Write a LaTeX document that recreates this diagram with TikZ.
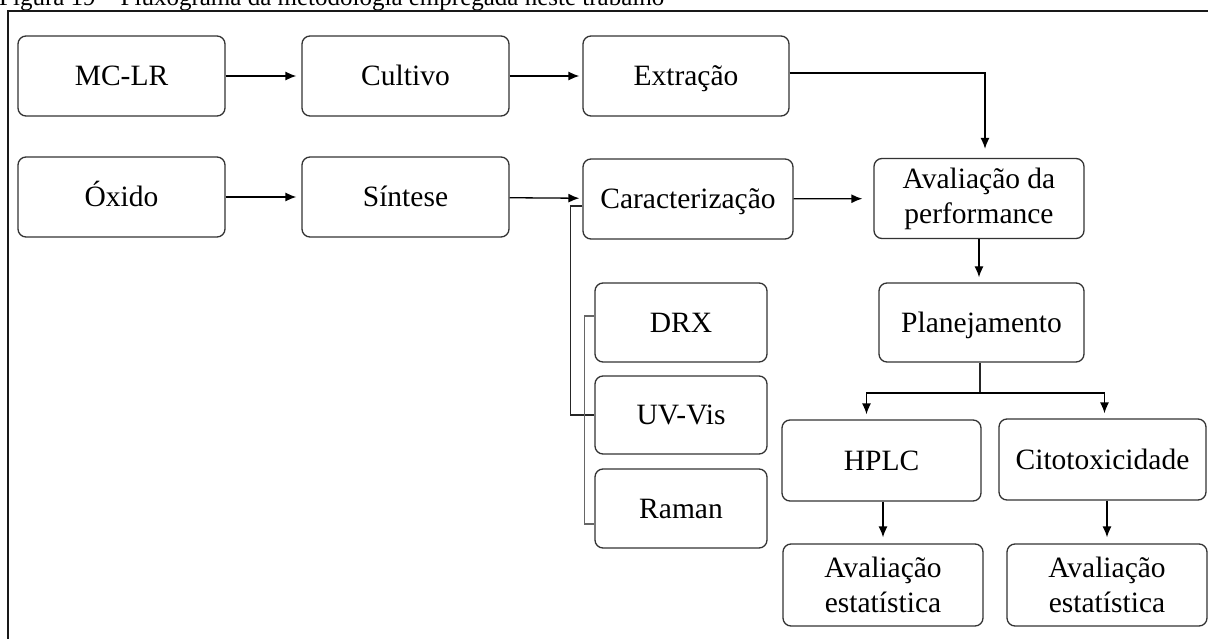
\documentclass[tikz,border=0pt]{standalone}
\usepackage{fontspec}
\setmainfont{Liberation Serif}
\usetikzlibrary{arrows.meta,calc}
\begin{document}
\begin{tikzpicture}[x=1pt,y=-1pt,
  box/.style={draw=black!80, line width=1.3pt, rounded corners=8pt,
    minimum width=#1, minimum height=80pt, inner sep=0pt, align=center,
    font=\fontsize{29.5}{35}\selectfont},
  box/.default=207pt,
  one/.style={text height=25pt, text depth=6pt},
  link/.style={draw=black, line width=1.3pt, -{Latex[length=11pt,width=9pt]}},
  wire/.style={draw=black!85, line width=1.3pt},
  brace/.style={draw=black!60, line width=1.1pt},
]
\useasboundingbox (0,0) rectangle (1208,639);
\clip (0,0) rectangle (1208,639);

% caption line and outer frame
\node[anchor=base west, inner sep=0pt, font=\fontsize{25}{30}\selectfont]
  (caption) at (-1,6) {Figura 19 – Fluxograma da metodologia empregada neste trabalho};
\draw[line width=2.2pt, draw=black!90] (8,11) rectangle (1220,660);

% first row
\node[box, one] (mclr)     at (121.5,76) {MC-LR};
\node[box, one] (cultivo)  at (405.5,76) {Cultivo};
\node[box=206pt, one] (extracao) at (686,76) {Extração};

% second row
\node[box, one] (oxido)    at (121.5,197) {Óxido};
\node[box, one] (sintese)  at (405.5,197) {Síntese};
\node[box=210pt, one] (carac) at (688,199) {Caracterização};
\node[box=210pt] (aval)  at (979,198.5) {Avaliação da\\performance};

% characterisation techniques
\node[box=172pt, one, minimum height=79pt] (drx)   at (681,322.5) {DRX};
\node[box=172pt, one, minimum height=78pt] (uvvis) at (681,415)   {UV-Vis};
\node[box=172pt, one, minimum height=79pt] (raman) at (681,508.5) {Raman};

% planning and analyses
\node[box=205pt, one, minimum height=79pt] (plan) at (981.5,322.5) {Planejamento};
\node[box=199pt, one, minimum height=81pt] (hplc) at (881.5,460.5) {HPLC};
\node[box=207pt, one, minimum height=81pt] (cito) at (1102.5,459.5) {Citotoxicidade};
\node[box=200pt, minimum height=82pt] (est1) at (883,585)  {Avaliação\\estatística};
\node[box=200pt, minimum height=82pt] (est2) at (1107,585) {Avaliação\\estatística};

% horizontal flow
\draw[link, shorten >=5pt] (mclr) -- (cultivo);
\draw[link, shorten >=3pt] (cultivo) -- (extracao);
\draw[link, shorten >=5pt] (oxido) -- (sintese);
\draw[link, shorten >=3pt] (sintese) -- (carac);
\draw[link, shorten >=11pt] (carac) -- (aval);
\draw[link, shorten >=9pt] ([yshift=3pt]extracao.east) -| ([xshift=6pt]aval.north);

% performance -> planning -> analyses
\draw[link, shorten >=5pt] (aval.south) -- (aval.south |- plan.north);
\coordinate (split) at (980,393);
\draw[wire] (plan.south -| split) -- (split);
\draw[link, shorten >=5pt] (split) -| ([xshift=-15pt]hplc.north);
\draw[link, shorten >=5pt] (split) -| ([xshift=2pt]cito.north);
\draw[link, shorten >=6pt] (hplc.south -| est1.north) -- (est1.north);
\draw[link, shorten >=6pt] (cito.south -| est2.north) -- (est2.north);

% characterisation feeds the three techniques
\draw[wire] ([yshift=-7pt]carac.west) -- ++(-12,0) |- (uvvis.west);
\draw[brace] ([yshift=6.5pt]drx.west) -- ++(-10,0) |- ([yshift=-15.5pt]raman.west);
\end{tikzpicture}
\end{document}
